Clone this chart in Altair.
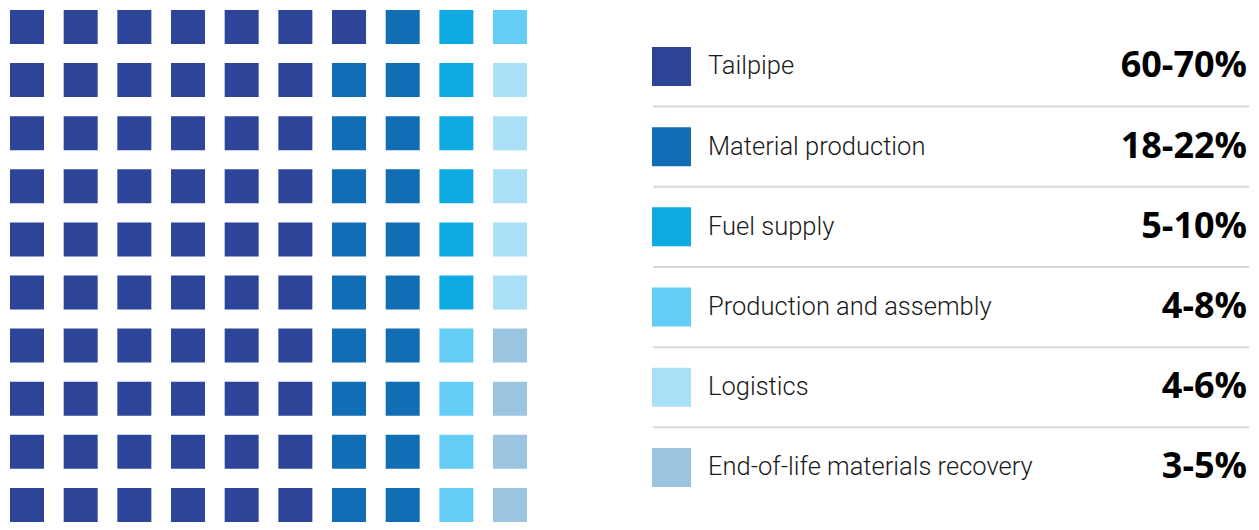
import altair as alt
import pandas as pd

# ---- data ----
categories = ["Tailpipe", "Material production", "Fuel supply",
              "Production and assembly", "Logistics", "End-of-life materials recovery"]
ranges = ["60-70%", "18-22%", "5-10%", "4-8%", "4-6%", "3-5%"]
cell_counts = [61, 19, 6, 5, 5, 4]   # squares per category in the 10x10 waffle
colors = ["#2D4599", "#126EB4", "#0EAAE1", "#63CDF5", "#AAE0F7", "#9BC4E0"]

n_rows = 10

# build waffle cells (column-major, top to bottom)
cells = []
k = 0
for cat, n in zip(categories, cell_counts):
    for _ in range(n):
        cells.append({"col": k // n_rows + 1, "row": k % n_rows + 1, "category": cat})
        k += 1
waffle_df = pd.DataFrame(cells)

legend_df = pd.DataFrame({
    "idx": list(range(len(categories))),
    "category": categories,
    "range": ranges,
})
sep_df = pd.DataFrame({"pos": [i + 0.5 for i in range(len(categories) - 1)]})

color_scale = alt.Scale(domain=categories, range=colors)

waffle = alt.Chart(waffle_df).mark_square(size=34 * 34, opacity=1).encode(
    x=alt.X("col:Q", axis=None, scale=alt.Scale(domain=[0.646, 10.521], nice=False, zero=False)),
    y=alt.Y("row:Q", axis=None, scale=alt.Scale(domain=[0.642, 10.322], nice=False, zero=False, reverse=True)),
    color=alt.Color("category:N", scale=color_scale, legend=None),
).properties(width=530, height=514)

yscale = alt.Scale(domain=[-0.729, 5.680], nice=False, zero=False, reverse=True)

seps = alt.Chart(sep_df).mark_rule(color="#d9d9d9", strokeWidth=2).encode(
    x=alt.value(8), x2=alt.value(604),
    y=alt.Y("pos:Q", axis=None, scale=yscale),
)
swatches = alt.Chart(legend_df).mark_square(size=39 * 39, opacity=1).encode(
    x=alt.value(26.5),
    y=alt.Y("idx:Q", axis=None, scale=yscale),
    color=alt.Color("category:N", scale=color_scale, legend=None),
)
labels = alt.Chart(legend_df).mark_text(
    align="left", baseline="middle", font="Roboto", fontWeight=300, fontSize=25.5, color="#1a1a1a"
).encode(
    x=alt.value(63),
    y=alt.Y("idx:Q", axis=None, scale=yscale),
    text="category:N",
)
values = alt.Chart(legend_df).mark_text(
    align="right", baseline="middle", font="Open Sans", fontWeight="bold", fontSize=36, color="#000000"
).encode(
    x=alt.value(602),
    y=alt.Y("idx:Q", axis=None, scale=yscale),
    text="range:N",
)
legend_panel = alt.layer(seps, swatches, labels, values).properties(width=606, height=514)

chart = alt.hconcat(waffle, legend_panel, spacing=107).properties(
    padding=0, background="white"
).configure_view(stroke="transparent", strokeWidth=0)

chart.save("out.html", embed_options={"renderer": "svg", "actions": False})
